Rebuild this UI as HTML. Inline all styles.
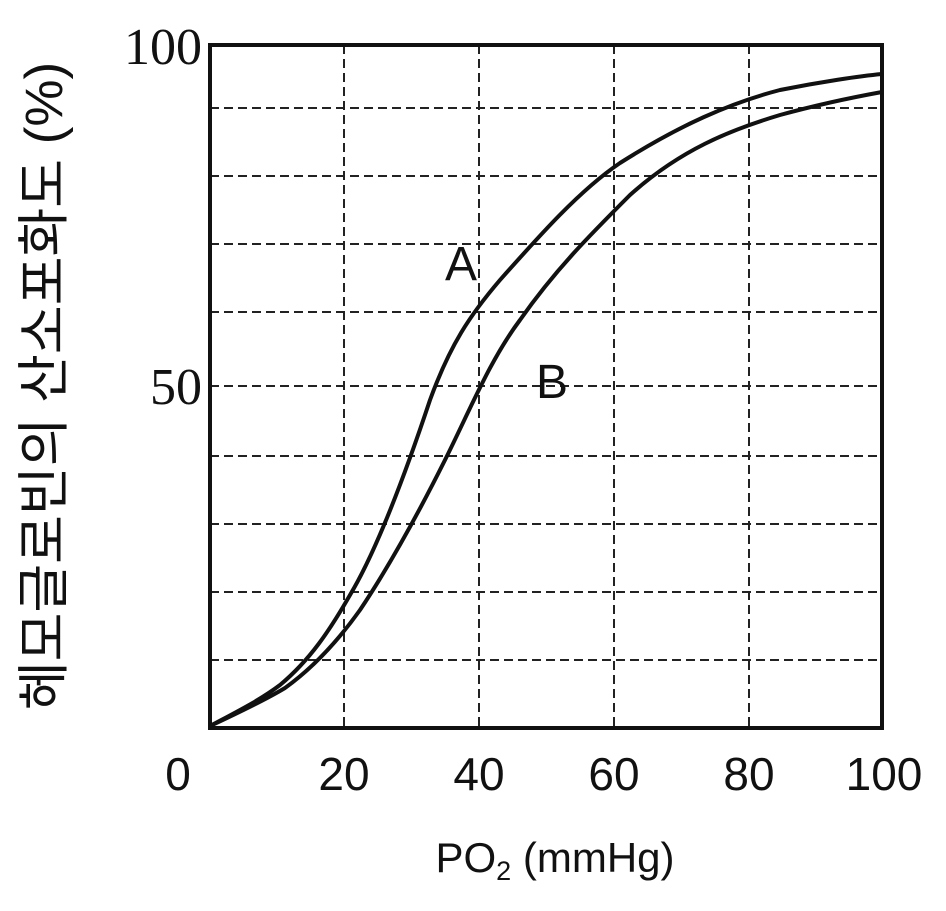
<!DOCTYPE html>
<html><head><meta charset="utf-8"><style>body{margin:0;background:#fff}</style></head><body>
<svg width="946" height="906" xmlns="http://www.w3.org/2000/svg">
<g stroke="#222" stroke-width="2" stroke-dasharray="9,5" fill="none">
<line x1="344" y1="45" x2="344" y2="728"/><line x1="479" y1="45" x2="479" y2="728"/>
<line x1="614" y1="45" x2="614" y2="728"/><line x1="749" y1="45" x2="749" y2="728"/>
<line x1="210" y1="108" x2="882" y2="108"/><line x1="210" y1="176" x2="882" y2="176"/>
<line x1="210" y1="244" x2="882" y2="244"/><line x1="210" y1="312" x2="882" y2="312"/>
<line x1="210" y1="386" x2="882" y2="386"/><line x1="210" y1="456" x2="882" y2="456"/>
<line x1="210" y1="524" x2="882" y2="524"/><line x1="210" y1="592" x2="882" y2="592"/>
<line x1="210" y1="660" x2="882" y2="660"/>
</g>
<rect x="210" y="45" width="672" height="683" fill="none" stroke="#111" stroke-width="4"/>
<g stroke="#111" stroke-width="4" fill="none">
<path d="M210,726 C240,710 260,700 280,685 C310,660 330,630 350,595 C380,545 410,460 430,400 C450,345 470,315 500,280 C540,235 580,190 620,163 C680,125 730,103 780,90 C820,82 860,76 882,74"/>
<path d="M210,726 C240,712 265,700 285,688 C310,670 335,645 360,610 C390,565 420,510 445,460 C470,410 490,360 520,320 C555,270 590,235 630,195 C680,150 730,130 780,115 C820,104 860,96 882,92"/>
</g>
<g font-family="Liberation Serif, serif" font-size="52" fill="#111">
<text x="202" y="64" text-anchor="end">100</text>
<text x="202" y="404" text-anchor="end">50</text>
</g>
<g font-family="Liberation Sans, sans-serif" font-size="46" fill="#111" text-anchor="middle">
<text x="178" y="790">0</text><text x="344" y="790">20</text><text x="479" y="790">40</text>
<text x="614" y="790">60</text><text x="749" y="790">80</text><text x="884" y="790">100</text>
<text x="461" y="280" font-size="48">A</text><text x="552" y="398" font-size="48">B</text>
<text x="555" y="872" font-size="42">PO<tspan font-size="27" dy="8">2</tspan><tspan dy="-8"> (mmHg)</tspan></text>
</g>
<text transform="translate(62,386) rotate(-90)" text-anchor="middle" font-family="Liberation Sans, 'Noto Sans CJK KR', sans-serif" font-size="53" fill="#111">헤모글로빈의 산소포화도 (%)</text>
</svg>
</body></html>
